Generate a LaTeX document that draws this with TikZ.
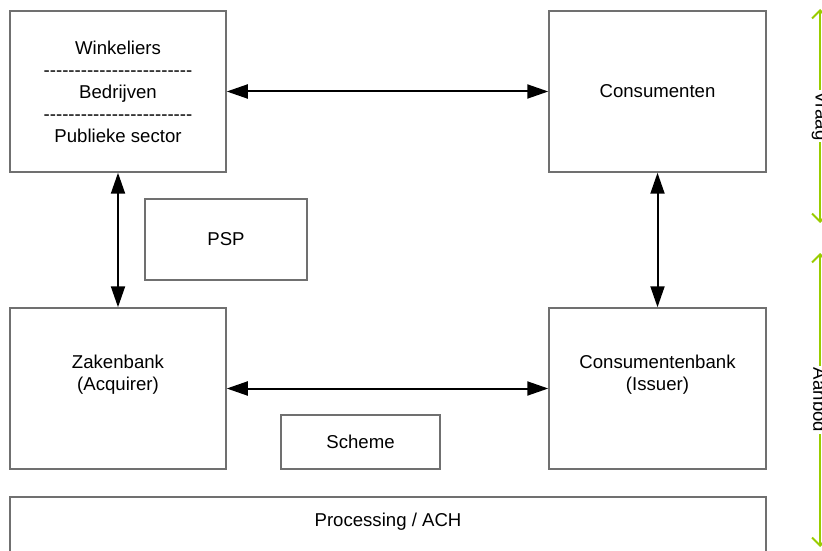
\documentclass[tikz,border=0pt]{standalone}
\usepackage{fontspec}
\setmainfont{Liberation Sans}
\usetikzlibrary{arrows.meta}
\definecolor{boxGrey}{RGB}{112,112,112}
\definecolor{sideGreen}{RGB}{153,204,0}
\newcommand{\sepline}{-{}-{}-{}-{}-{}-{}-{}-{}-{}-{}-{}-{}-{}-{}-{}-{}-{}-{}-{}-{}-{}-{}-{}-}

\begin{document}
\begin{tikzpicture}[x=0.5pt, y=-0.5pt,
    box/.style={draw=boxGrey, line width=0.75pt, align=center, inner sep=0pt,
      font=\fontsize{9.3}{11}\selectfont},
    boxtext/.style={align=center, inner sep=0pt, font=\fontsize{9.3}{11}\selectfont},
    link/.style={line width=1pt,
      {Triangle[length=10.5pt,width=7pt]}-{Triangle[length=10.5pt,width=7pt]}},
    side/.style={sideGreen, line width=1pt,
      {Straight Barb[length=4pt,width=8pt]}-{Straight Barb[length=4pt,width=8pt]}},
    sidelabel/.style={fill=white, text=black, rotate=-90, inner sep=1pt,
      font=\fontsize{9.3}{11}\selectfont}]
        \useasboundingbox (0,0) rectangle (822,550);
        \clip (0,0) rectangle (822,550);

        % the four parties
        \node[box, minimum width=108pt, minimum height=80.5pt] (win) at (118,91.5)
          {Winkeliers\\\sepline\\Bedrijven\\\sepline\\Publieke sector};
        \node[box, minimum width=108.5pt, minimum height=80.5pt] (cons) at (657.5,91.5) {Consumenten};
        \node[box, minimum width=108pt, minimum height=80.5pt] (zak) at (118,388.5) {};
        \node[box, minimum width=108.5pt, minimum height=80.5pt] (cbank) at (657.5,388.5) {};
        \node[boxtext] (zakText) at ([yshift=7pt]zak.center) {Zakenbank\\(Acquirer)};
        \node[boxtext] (cbankText) at ([yshift=7pt]cbank.center) {Consumentenbank\\(Issuer)};

        % the parties in between
        \node[box, minimum width=81pt, minimum height=40.5pt] (psp) at (226,239.5) {PSP};
        \node[box, minimum width=79.5pt, minimum height=27pt] (scheme) at (360.5,442) {Scheme};
        \node[box, minimum width=378pt, minimum height=31pt] (ach) at (388,528) {};
        \node[boxtext] (achText) at ([yshift=3pt]ach.center) {Processing / ACH};

        \draw[link] (win) -- (cons);
        \draw[link] (win) -- (zak);
        \draw[link] (cons) -- (cbank);
        \draw[link] (zak) -- (cbank);

        % demand and supply
        \coordinate (vraagTop) at (820,9);
        \coordinate (vraagBot) at (820,223);
        \coordinate (aanbodTop) at (820,253);
        \coordinate (aanbodBot) at (820,547);
        \draw[side] (vraagTop) -- node[sidelabel] {Vraag} (vraagBot);
        \draw[side] (aanbodTop) -- node[sidelabel] {Aanbod} (aanbodBot);
      \end{tikzpicture}
\end{document}
